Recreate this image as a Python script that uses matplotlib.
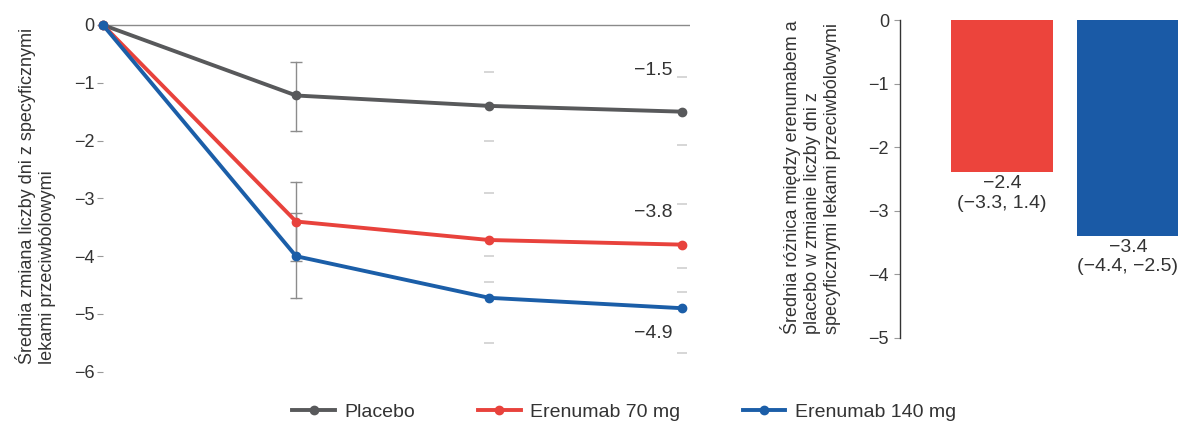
import matplotlib.pyplot as plt

plt.rcParams['font.family'] = ['Liberation Sans', 'DejaVu Sans']

# line chart data (time points 0..3)
timepoints = [0, 1, 2, 3]
placebo = [0, -1.22, -1.40, -1.50]
eren70 = [0, -3.40, -3.72, -3.80]
eren140 = [0, -4.00, -4.72, -4.90]

# error bar limits at time points 1..3
placebo_hi = [-0.64, -0.81, -0.90]
placebo_lo = [-1.83, -2.00, -2.08]
eren70_hi = [-2.72, -2.90, -3.10]
eren70_lo = [-4.08, -4.45, -4.62]
eren140_hi = [-3.25, -4.00, -4.20]
eren140_lo = [-4.72, -5.50, -5.67]

final_labels = ["−1.5", "−3.8", "−4.9"]
final_label_y = [-0.78, -3.24, -5.33]

# bar chart data
bar_names = ["Erenumab 70 mg", "Erenumab 140 mg"]
bar_diff = [-2.4, -3.4]
bar_ci = ["(−3.3, 1.4)", "(−4.4, −2.5)"]

c_grey = "#58595b"
c_red = "#e8423c"
c_blue = "#1b5ea8"
c_bar_red = "#ec443c"
c_bar_blue = "#1a5aa6"

fig = plt.figure(figsize=(11.78, 4.23), dpi=100)

# ---- left: line chart ----
ax = fig.add_axes([0.0874, 0.1142, 0.4983, 0.8336])
ax.axhline(0, color="#8a8a8a", lw=1, zorder=1)

series = [(placebo, placebo_hi, placebo_lo, c_grey, "Placebo"),
          (eren70, eren70_hi, eren70_lo, c_red, "Erenumab 70 mg"),
          (eren140, eren140_hi, eren140_lo, c_blue, "Erenumab 140 mg")]

for vals, hi, lo, col, name in series:
    # visible error bar at first follow-up
    ax.plot([1, 1], [lo[0], hi[0]], color="#8c8c8c", lw=1, zorder=2)
    ax.plot([1, 1], [lo[0], hi[0]], ls="none", marker="_", ms=9,
            mew=1, color="#8c8c8c", zorder=2)
    # faint caps at later points
    ax.plot([2, 3, 2, 3], [hi[1], hi[2], lo[1], lo[2]], ls="none",
            marker="_", ms=7, mew=1.2, color="#cfcfcf", zorder=2)
    ax.plot(timepoints, vals, color=col, lw=2.8, marker="o", ms=6,
            label=name, zorder=3, clip_on=False)

for txt, yv in zip(final_labels, final_label_y):
    ax.text(2.95, yv, txt, ha="right", va="center", fontsize=14, color="#333333")

ax.set_xlim(0, 3.04)
ax.set_ylim(-6.05, 0.05)
ax.set_yticks([0, -1, -2, -3, -4, -5, -6])
ax.set_yticklabels(["0", "−1", "−2", "−3", "−4", "−5", "−6"])
ax.set_xticks([])
for s in ax.spines.values():
    s.set_visible(False)
ax.tick_params(axis="y", length=4, width=0.8, color="#999999",
               labelsize=13, labelcolor="#333333", pad=2)

fig.text(0.03, 0.536, "Średnia zmiana liczby dni z specyficznymi\nlekami przeciwbólowymi",
         rotation=90, ha="center", va="center", multialignment="left",
         fontsize=13, color="#333333", linespacing=1.2)

# ---- right: bar chart ----
bx = fig.add_axes([0.764, 0.2021, 0.236, 0.7506])
bars = bx.bar([0, 1], bar_diff, width=0.81, color=[c_bar_red, c_bar_blue])
for b, v, ci in zip(bars, bar_diff, bar_ci):
    bx.annotate(f"{v:.1f}".replace("-", "−") + "\n" + ci,
                (b.get_x() + b.get_width() / 2, v), xytext=(0, -2),
                textcoords="offset points", ha="center", va="top",
                fontsize=14, color="#333333", linespacing=1.2)

bx.set_xlim(-0.81, 1.397)
bx.set_ylim(-5, 0)
bx.set_yticks([0, -1, -2, -3, -4, -5])
bx.set_yticklabels(["0", "−1", "−2", "−3", "−4", "−5"])
bx.set_xticks([])
for k in ["top", "right", "bottom"]:
    bx.spines[k].set_visible(False)
bx.spines["left"].set_color("#333333")
bx.spines["left"].set_linewidth(1)
bx.tick_params(axis="y", length=4, width=0.8, color="#999999",
               labelsize=13, labelcolor="#333333", pad=4)

fig.text(0.688, 0.582,
         "Średnia różnica między erenumabem a\nplacebo w zmianie liczby dni z\nspecyficznymi lekami przeciwbólowymi",
         rotation=90, ha="center", va="center", multialignment="left",
         fontsize=13, color="#333333", linespacing=1.2)

# ---- legend ----
handles, labels = ax.get_legend_handles_labels()
fig.legend(handles, labels, loc="lower center", bbox_to_anchor=(0.53, -0.036),
           ncol=3, frameon=False, fontsize=14, handlelength=2.2,
           handletextpad=0.5, columnspacing=3.2, labelcolor="#333333")

fig.savefig("out.png", dpi=100)
